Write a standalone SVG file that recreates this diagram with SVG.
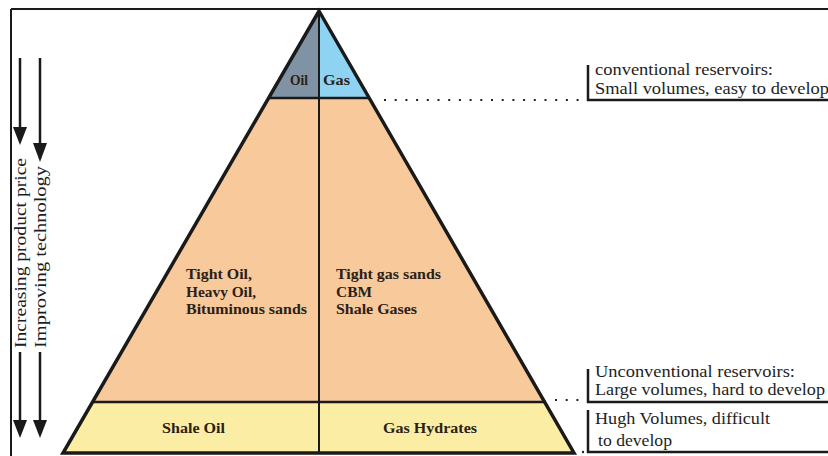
<svg xmlns="http://www.w3.org/2000/svg" width="828" height="456" viewBox="0 0 828 456">
<defs>
<style>
.t{font-family:"Liberation Serif","Times New Roman",serif;fill:#1e1e1e;font-size:17px}
.b{font-family:"Liberation Serif","Times New Roman",serif;fill:#2a2118;font-size:15px;font-weight:bold}
.ln{stroke:#1a1a1a;fill:none}
.dot{stroke:#222;stroke-width:2.2;stroke-dasharray:2 8.7;fill:none}
.ah{fill:#1a1a1a}
</style>
</defs>
<rect width="828" height="456" fill="#ffffff"/>
<g id="frame">
<line class="ln" x1="11" y1="9" x2="828" y2="9" stroke-width="2"/>
<line class="ln" x1="11" y1="9" x2="11" y2="456" stroke-width="2"/>
</g>
<g id="pyramid">
<polygon id="top-oil" points="319,11 269,98 319,98" fill="#7f93a4"/>
<polygon id="top-gas" points="319,11 369,98 319,98" fill="#8fd3f2"/>
<polygon id="mid" points="269,98 369,98 546,402 92,402" fill="#f8c99b"/>
<polygon id="bottom" points="92,402 546,402 574,453 63,453" fill="#fbeea4"/>
<line class="ln" x1="269" y1="98" x2="369" y2="98" stroke-width="2.5"/>
<line class="ln" x1="92" y1="402" x2="546" y2="402" stroke-width="2.5"/>
<line class="ln" x1="319" y1="11" x2="319" y2="453" stroke-width="2"/>
<polygon class="ln" points="319,11 574,453 63,453" stroke-width="3.5" stroke-linejoin="miter"/>
</g>
<g id="labels-inside">
<text class="b" x="290" y="85" textLength="18" lengthAdjust="spacingAndGlyphs">Oil</text>
<text class="b" x="323" y="85" textLength="27" lengthAdjust="spacingAndGlyphs">Gas</text>
<text class="b" x="186" y="279" textLength="66" lengthAdjust="spacingAndGlyphs">Tight Oil,</text>
<text class="b" x="186" y="297" textLength="70" lengthAdjust="spacingAndGlyphs">Heavy Oil,</text>
<text class="b" x="186" y="314" textLength="121" lengthAdjust="spacingAndGlyphs">Bituminous sands</text>
<text class="b" x="336" y="279" textLength="105" lengthAdjust="spacingAndGlyphs">Tight gas sands</text>
<text class="b" x="336" y="297" textLength="36" lengthAdjust="spacingAndGlyphs">CBM</text>
<text class="b" x="336" y="314" textLength="81" lengthAdjust="spacingAndGlyphs">Shale Gases</text>
<text class="b" x="162" y="433" textLength="63" lengthAdjust="spacingAndGlyphs">Shale Oil</text>
<text class="b" x="383" y="433" textLength="94" lengthAdjust="spacingAndGlyphs">Gas Hydrates</text>
</g>
<g id="connectors">
<line class="dot" x1="384" y1="100" x2="580" y2="100"/>
<line class="dot" x1="555" y1="400" x2="585" y2="400"/>
<circle cx="583" cy="452" r="1.2" fill="#222"/>
</g>
<g id="label-conventional">
<polyline class="ln" points="588,65 588,100 828,100" stroke-width="2.5"/>
<text class="t" x="595" y="75" textLength="178" lengthAdjust="spacingAndGlyphs">conventional reservoirs:</text>
<text class="t" x="595" y="94" textLength="234" lengthAdjust="spacingAndGlyphs">Small volumes, easy to develop</text>
</g>
<g id="label-unconventional">
<polyline class="ln" points="588,369 588,402 828,402" stroke-width="2.5"/>
<text class="t" x="595" y="377" textLength="200" lengthAdjust="spacingAndGlyphs">Unconventional reservoirs:</text>
<text class="t" x="595" y="395" textLength="230" lengthAdjust="spacingAndGlyphs">Large volumes, hard to develop</text>
</g>
<g id="label-hugh">
<polyline class="ln" points="588,410 588,452 828,452" stroke-width="2.5"/>
<text class="t" x="595" y="424" textLength="175" lengthAdjust="spacingAndGlyphs">Hugh Volumes, difficult</text>
<text class="t" x="598" y="446" textLength="74" lengthAdjust="spacingAndGlyphs">to develop</text>
</g>
<g id="arrow-price">
<line class="ln" x1="20" y1="58" x2="20" y2="130" stroke-width="2.5"/>
<polygon class="ah" points="13,127 27,127 20,145"/>
<text class="t" transform="translate(26,348) rotate(-90)" x="0" y="0" textLength="190" lengthAdjust="spacingAndGlyphs" font-size="18">Increasing product price</text>
<line class="ln" x1="20" y1="352" x2="20" y2="424" stroke-width="2.5"/>
<polygon class="ah" points="13,420 27,420 20,438"/>
</g>
<g id="arrow-technology">
<line class="ln" x1="40" y1="58" x2="40" y2="146" stroke-width="2.5"/>
<polygon class="ah" points="33,143 47,143 40,162"/>
<text class="t" transform="translate(46,348) rotate(-90)" x="0" y="0" textLength="182" lengthAdjust="spacingAndGlyphs" font-size="18">Improving technology</text>
<line class="ln" x1="40" y1="352" x2="40" y2="424" stroke-width="2.5"/>
<polygon class="ah" points="33,420 47,420 40,438"/>
</g>
</svg>
